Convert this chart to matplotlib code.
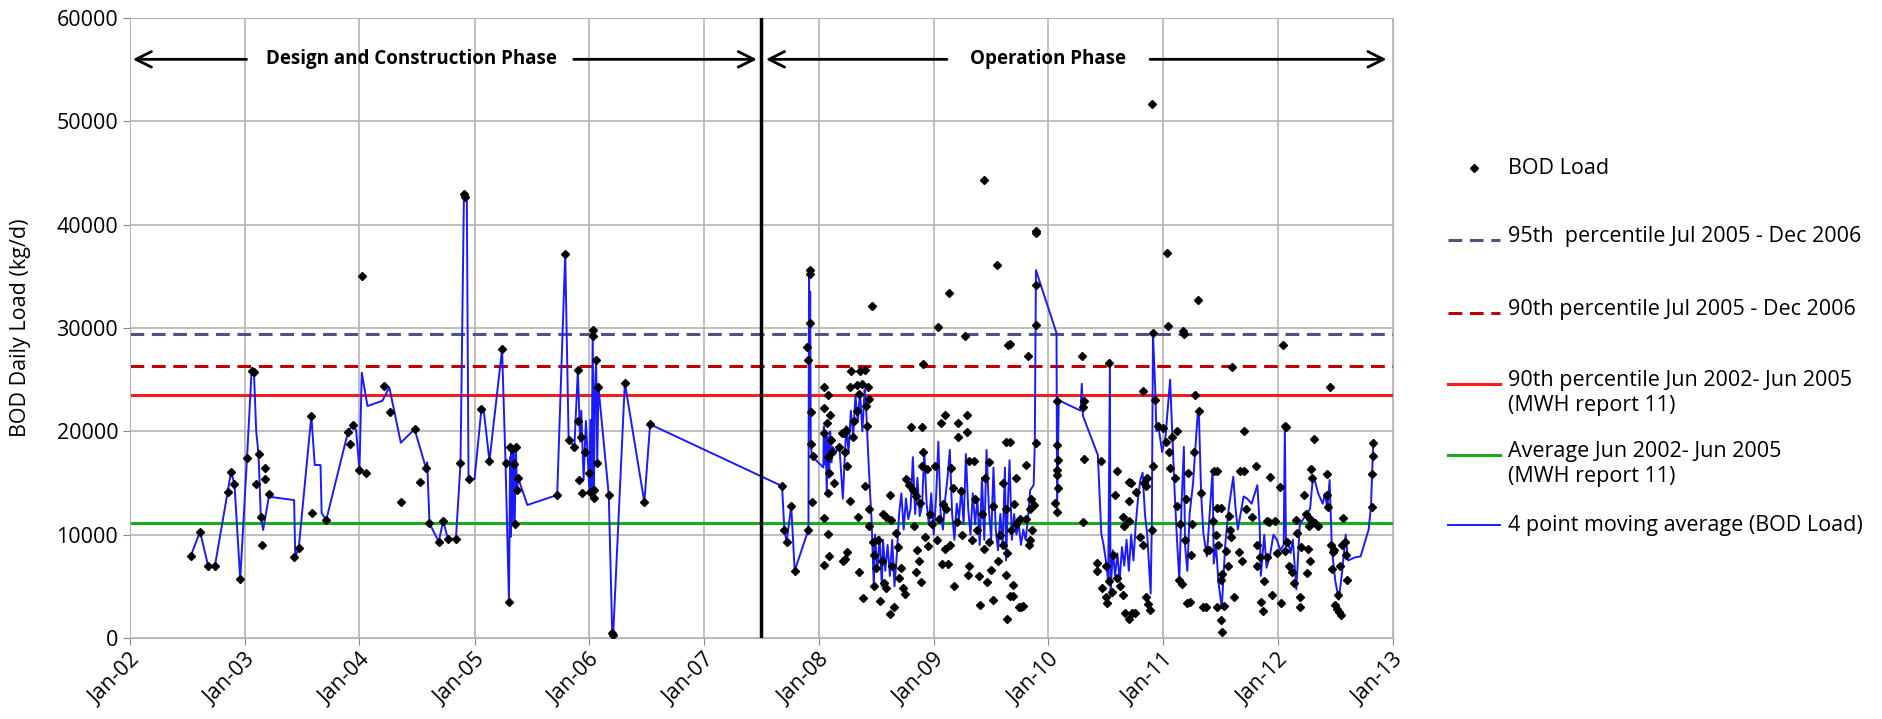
import matplotlib
matplotlib.use("Agg")
import matplotlib.pyplot as plt
import matplotlib.dates as mdates
from matplotlib.lines import Line2D
import numpy as np
import pandas as pd

# dates are written as decimal years, loads in kg/d
design_t = [2002.53, 2002.61, 2002.68, 2002.74, 2002.85, 2002.88, 2002.91, 2002.96, 2003.02, 2003.06,
            2003.08, 2003.10, 2003.12, 2003.14, 2003.15, 2003.18, 2003.18, 2003.21, 2003.43, 2003.47,
            2003.58, 2003.59, 2003.71, 2003.90, 2003.92, 2003.94, 2004.00, 2004.02, 2004.06, 2004.21,
            2004.27, 2004.36, 2004.48, 2004.53, 2004.58, 2004.61, 2004.69, 2004.73, 2004.77, 2004.84,
            2004.88, 2004.91, 2004.92, 2004.95, 2005.06, 2005.13, 2005.24, 2005.27, 2005.30, 2005.31,
            2005.33, 2005.34, 2005.35, 2005.36, 2005.37, 2005.38, 2005.72, 2005.79, 2005.82, 2005.87,
            2005.90, 2005.90, 2005.91, 2005.93, 2005.94, 2005.96, 2006.00, 2006.01, 2006.03, 2006.03,
            2006.04, 2006.04, 2006.06, 2006.07, 2006.08, 2006.17, 2006.20, 2006.21, 2006.31, 2006.48,
            2006.53]
design_v = [7960, 10290, 7000, 7000, 14100, 16100, 14870, 5680, 17450, 25870,
            25770, 14870, 17800, 11740, 9000, 16480, 15390, 13940, 7870, 8680,
            21480, 12070, 11420, 19960, 18780, 20610, 16260, 35000, 16000, 24390,
            21900, 13130, 20200, 15130, 16420, 11100, 9320, 11350, 9580, 9550,
            16900, 43000, 42700, 15380, 22130, 17130, 27940, 16970, 3510, 18500,
            18300, 16800, 11000, 18500, 14300, 15500, 13840, 37160, 19160, 18510,
            25900, 21000, 15300, 19500, 14000, 18000, 16000, 14160, 29800, 29200,
            13520, 14300, 26900, 16900, 24300, 13840, 510, 300, 24710, 13130,
            20680]

oper_t = [2007.68, 2007.70, 2007.72, 2007.76, 2007.79, 2007.91, 2007.90, 2007.92, 2007.92, 2007.92,
          2007.91, 2007.93, 2007.93, 2007.94, 2007.95,
          2008.05, 2008.08, 2008.05, 2008.10, 2008.07, 2008.05, 2008.11, 2008.08, 2008.09, 2008.08,
          2008.05, 2008.08, 2008.09, 2008.05, 2008.12, 2008.13,
          2008.20, 2008.22, 2008.24, 2008.23, 2008.25, 2008.21, 2008.23, 2008.25, 2008.34, 2008.35,
          2008.39, 2008.40, 2008.18, 2008.27, 2008.30,
          2008.28, 2008.36, 2008.40, 2008.27, 2008.33, 2008.38, 2008.43, 2008.35, 2008.31, 2008.33,
          2008.41, 2008.44, 2008.42, 2008.46,
          2008.44, 2008.44, 2008.47, 2008.48, 2008.48, 2008.53, 2008.57, 2008.59, 2008.62, 2008.66,
          2008.62, 2008.56, 2008.59, 2008.63, 2008.69, 2008.64, 2008.72, 2008.70, 2008.75, 2008.73,
          2008.50, 2008.52, 2008.55, 2008.67,
          2008.76, 2008.79, 2008.82, 2008.85, 2008.88, 2008.83, 2008.86, 2008.87, 2008.85, 2008.89,
          2008.93, 2008.95, 2008.94, 2008.91, 2008.90, 2008.80, 2008.90, 2008.91, 2008.97, 2008.99,
          2009.01, 2009.06, 2009.10, 2009.13, 2009.04, 2009.08, 2009.11, 2009.18, 2009.12, 2009.07,
          2009.10, 2009.14, 2009.21, 2009.24, 2009.21, 2009.29, 2009.29, 2009.31, 2009.31, 2009.30,
          2009.27, 2009.15, 2009.17, 2009.20, 2009.25, 2009.03, 2009.05,
          2009.35, 2009.40, 2009.39, 2009.44, 2009.44, 2009.46, 2009.52, 2009.48, 2009.50, 2009.55,
          2009.42, 2009.45, 2009.38, 2009.48, 2009.52, 2009.36, 2009.33,
          2009.63, 2009.66, 2009.65, 2009.66, 2009.60, 2009.63, 2009.64, 2009.63, 2009.64, 2009.69,
          2009.66, 2009.69, 2009.72, 2009.74, 2009.78, 2009.76, 2009.70, 2009.72, 2009.75, 2009.58,
          2009.56, 2009.60, 2009.67,
          2009.80, 2009.82, 2009.84, 2009.84, 2009.85, 2009.87, 2009.86, 2009.89, 2009.89, 2009.89,
          2009.89, 2009.89, 2009.80, 2009.83,
          2010.07, 2010.07, 2010.08, 2010.07, 2010.07, 2010.08, 2010.06, 2010.07, 2010.29, 2010.31,
          2010.30, 2010.31, 2010.30,
          2010.46, 2010.42, 2010.42, 2010.47, 2010.50, 2010.51, 2010.53, 2010.53, 2010.55, 2010.60,
          2010.62, 2010.60, 2010.58, 2010.56, 2010.50,
          2010.65, 2010.67, 2010.73, 2010.70, 2010.75, 2010.70, 2010.72, 2010.70, 2010.76, 2010.65,
          2010.66, 2010.70, 2010.82, 2010.83, 2010.85, 2010.86, 2010.82, 2010.80, 2010.85, 2010.87,
          2010.88, 2010.91, 2010.90, 2010.90,
          2010.91, 2010.93, 2010.95, 2011.03, 2011.04, 2011.00, 2011.02, 2011.05, 2011.06, 2011.08,
          2011.10, 2011.12, 2011.14, 2011.16, 2011.17, 2011.18, 2011.15, 2011.20, 2011.22, 2011.25,
          2011.24, 2011.28, 2011.30, 2011.27, 2011.12, 2011.19, 2011.21, 2011.23,
          2011.31, 2011.33, 2011.35, 2011.37, 2011.38, 2011.40, 2011.44, 2011.47, 2011.47, 2011.50,
          2011.43, 2011.46, 2011.48, 2011.50, 2011.51, 2011.47, 2011.50, 2011.51, 2011.53, 2011.55,
          2011.58, 2011.60, 2011.57, 2011.56, 2011.59,
          2011.67, 2011.70, 2011.70, 2011.62, 2011.66, 2011.69, 2011.72, 2011.77, 2011.81, 2011.82,
          2011.82, 2011.84, 2011.85, 2011.87, 2011.88, 2011.90, 2011.90, 2011.92, 2011.93, 2011.95,
          2011.97, 2011.99,
          2012.02, 2012.04, 2012.06, 2012.07, 2012.03, 2012.06, 2012.08, 2012.10, 2012.12, 2012.14,
          2012.16, 2012.17, 2012.19, 2012.19, 2012.20, 2012.23, 2012.24, 2012.26, 2012.28, 2012.29,
          2012.31, 2012.30, 2012.28, 2012.27, 2012.25,
          2012.32, 2012.35, 2012.43, 2012.45, 2012.43, 2012.44, 2012.46, 2012.48, 2012.47, 2012.49,
          2012.50, 2012.51, 2012.53, 2012.55, 2012.54, 2012.56, 2012.57, 2012.58, 2012.59, 2012.60,
          2012.83, 2012.83, 2012.82, 2012.82, 2012.52]
oper_v = [14700, 10500, 9300, 12800, 6500, 10500, 28200, 35600, 35200, 30500,
          26900, 21900, 18800, 13200, 17600,
          24300, 23500, 22300, 21600, 20800, 19800, 19200, 17500, 16000, 14000,
          11600, 10100, 7900, 7100, 18000, 15000,
          19800, 19800, 20100, 18000, 16600, 7500, 7600, 8300, 11700, 6400,
          3900, 14700, 18500, 13300, 19500,
          25800, 25800, 25900, 24300, 24500, 24600, 24300, 23600, 21000, 22000,
          22500, 23100, 20500, 32100,
          10800, 12500, 9300, 8000, 5000, 3600, 5300, 4800, 2300, 3000,
          13800, 12000, 11700, 11400, 8800, 7000, 6800, 5800, 4300, 4800,
          6800, 9500, 7500, 10200,
          15400, 14800, 14300, 13700, 13100, 10800, 8500, 7500, 6400, 5400,
          9800, 8900, 16400, 18000, 16600, 20400, 20400, 26500, 12000, 11000,
          16600, 20800, 21600, 33400, 30100, 13000, 12500, 5000, 7200, 7200,
          8600, 9000, 20800, 14200, 19500, 21600, 19900, 17100, 7000, 6100,
          29200, 16500, 14500, 11200, 10000, 9500, 11500,
          17100, 3200, 6000, 44300, 8600, 5400, 3700, 9300, 6600, 36100,
          12000, 15500, 10500, 17000, 12800, 13500, 9500,
          19000, 19000, 28400, 28500, 15000, 12500, 8200, 6100, 1800, 4100,
          4100, 5100, 11000, 3000, 3100, 3000, 13000, 15500, 11500, 10000,
          7500, 9000, 10500,
          16700, 27300, 12500, 9500, 13500, 12900, 10500, 39200, 39400, 34200,
          30300, 18900, 11500, 9000,
          22900, 18700, 17200, 16300, 15800, 14500, 13100, 12200, 27300, 22900,
          22400, 17300, 11200,
          17100, 7300, 6500, 4800, 4000, 3400, 26600, 5500, 4500, 5800,
          5000, 16200, 13800, 8000, 7000,
          4200, 2400, 2400, 1800, 2400, 15100, 15000, 13300, 14100, 11700,
          10800, 11300, 23900, 15000, 14700, 15500, 9000, 9800, 4000, 3300,
          2700, 16600, 10500, 51700,
          29500, 23000, 20500, 37300, 30200, 20300, 19000, 18000, 16500, 19500,
          15500, 12800, 5600, 5200, 29700, 29400, 11000, 13500, 16000, 11000,
          8000, 23500, 32700, 18000, 20000, 9500, 3400, 3500,
          22000, 14000, 3000, 3000, 8500, 8500, 16200, 16200, 12600, 12600,
          11300, 10000, 9000, 5600, 6200, 3000, 1700, 600, 3100, 8400,
          10500, 26200, 11800, 7000, 9800,
          16200, 16200, 20000, 4000, 8300, 7500, 12500, 11700, 16600, 9000,
          7000, 7800, 3500, 2600, 5500, 7800, 11300, 11200, 15600, 4200,
          11300, 8200,
          14600, 28400, 20500, 20400, 3400, 8400, 9300, 7000, 6400, 5300,
          11400, 10200, 4000, 3000, 8800, 13800, 12000, 8600, 7500, 16400,
          19300, 15500, 11500, 10800, 6300,
          11100, 10800, 15900, 24300, 13800, 12700, 9000, 8300, 6700, 8500,
          3200, 2800, 2500, 2200, 7000, 9000, 11600, 9300, 8000, 5600,
          18900, 17600, 15900, 12700, 4200]

ma_t = [2002.53, 2002.61, 2002.68, 2002.74, 2002.85, 2002.88, 2002.91, 2002.96, 2003.02, 2003.06,
        2003.08, 2003.10, 2003.12, 2003.14, 2003.16, 2003.21, 2003.43, 2003.44, 2003.47, 2003.58,
        2003.61, 2003.66, 2003.67, 2003.71, 2003.90, 2003.94, 2003.97, 2004.00, 2004.02, 2004.07,
        2004.20, 2004.26, 2004.36, 2004.48, 2004.58, 2004.59, 2004.61, 2004.69, 2004.73, 2004.77,
        2004.84, 2004.88, 2004.91, 2004.935, 2004.95, 2005.00, 2005.06, 2005.08, 2005.13, 2005.24,
        2005.27, 2005.30, 2005.31, 2005.315, 2005.32, 2005.33, 2005.34, 2005.35, 2005.36, 2005.37,
        2005.38, 2005.46, 2005.72, 2005.79, 2005.82, 2005.87, 2005.90, 2005.92, 2005.93, 2005.95,
        2005.97, 2006.00, 2006.01, 2006.02, 2006.03, 2006.04, 2006.05, 2006.06, 2006.07, 2006.08,
        2006.17, 2006.20, 2006.21, 2006.31, 2006.48, 2006.53,
        2007.68, 2007.70, 2007.72, 2007.76, 2007.79, 2007.91, 2007.915, 2007.92, 2007.925, 2007.93,
        2007.94, 2008.04, 2008.045, 2008.055, 2008.06, 2008.07, 2008.08, 2008.09, 2008.10, 2008.11,
        2008.12, 2008.15, 2008.18, 2008.21, 2008.24, 2008.26, 2008.28, 2008.30, 2008.32, 2008.34,
        2008.36, 2008.38, 2008.40, 2008.41, 2008.43, 2008.45, 2008.46, 2008.48, 2008.49, 2008.51,
        2008.53, 2008.55, 2008.56, 2008.58, 2008.60, 2008.62, 2008.64, 2008.66, 2008.68, 2008.70,
        2008.72, 2008.74, 2008.76, 2008.78, 2008.80, 2008.82, 2008.84, 2008.86, 2008.88, 2008.90,
        2008.92, 2008.94, 2008.96, 2008.98, 2009.00, 2009.02, 2009.04, 2009.06, 2009.08, 2009.10,
        2009.12, 2009.14, 2009.16, 2009.18, 2009.20, 2009.22, 2009.24, 2009.26, 2009.28, 2009.30,
        2009.32, 2009.34, 2009.36, 2009.38, 2009.40, 2009.42, 2009.44, 2009.46, 2009.48, 2009.50,
        2009.52, 2009.54, 2009.56, 2009.58, 2009.60, 2009.62, 2009.63, 2009.65, 2009.66, 2009.68,
        2009.70, 2009.72, 2009.74, 2009.76, 2009.78, 2009.80, 2009.82, 2009.84, 2009.87, 2009.88,
        2009.89, 2010.07, 2010.075, 2010.09, 2010.28, 2010.29, 2010.30, 2010.43, 2010.46, 2010.48,
        2010.50, 2010.52, 2010.535, 2010.54, 2010.56, 2010.58, 2010.60, 2010.62, 2010.64, 2010.66,
        2010.68, 2010.70, 2010.72, 2010.74, 2010.76, 2010.78, 2010.80, 2010.82, 2010.84, 2010.86,
        2010.89, 2010.90, 2010.91, 2010.93, 2010.94, 2010.96, 2010.99, 2011.02, 2011.06, 2011.08,
        2011.10, 2011.12, 2011.14, 2011.16, 2011.18, 2011.19, 2011.21, 2011.23, 2011.26, 2011.30,
        2011.31, 2011.33, 2011.35, 2011.38, 2011.43, 2011.44, 2011.46, 2011.48, 2011.51, 2011.54,
        2011.57, 2011.61, 2011.63, 2011.65, 2011.70, 2011.73, 2011.77, 2011.82, 2011.84, 2011.85,
        2011.88, 2011.90, 2011.93, 2011.96, 2011.99, 2012.02, 2012.05, 2012.06, 2012.07, 2012.09,
        2012.11, 2012.13, 2012.16, 2012.19, 2012.22, 2012.25, 2012.28, 2012.30, 2012.32, 2012.35,
        2012.39, 2012.41, 2012.43, 2012.45, 2012.47, 2012.50, 2012.53, 2012.56, 2012.59, 2012.61,
        2012.67, 2012.72, 2012.79, 2012.81, 2012.83]
ma_v = [7960, 10290, 7000, 7000, 14100, 16100, 14870, 5680, 17450, 25870,
        25770, 20000, 17800, 11740, 10450, 13670, 13350, 7870, 8680, 21480,
        16740, 16740, 12070, 11420, 19960, 20610, 20130, 16260, 25670, 22450,
        22960, 24260, 18900, 20200, 16420, 17000, 11100, 9320, 11350, 9580,
        9550, 16900, 43000, 42500, 15380, 15380, 22130, 22060, 17130, 27940,
        16970, 3510, 17500, 9800, 18500, 11000, 18300, 10900, 18500, 14300,
        15500, 12870, 13840, 37160, 19160, 18510, 25900, 19000, 22000, 15300,
        21000, 14500, 21100, 13500, 29800, 13300, 24000, 26900, 16900, 24300,
        13840, 510, 700, 24710, 13130, 20680,
        14700, 10500, 9300, 12800, 6500, 10500, 35600, 24000, 33500, 18800,
        17600, 16500, 20500, 16800, 19800, 14000, 19500, 15500, 20000, 17000,
        18500, 18000, 18600, 13500, 20500, 18000, 22000, 19500, 23500, 21000,
        23800, 20000, 24000, 23000, 18000, 13500, 11500, 5000, 10000, 6500,
        9800, 5000, 9500, 6500, 9000, 6000, 9500, 5000, 8000, 12000,
        14000, 10500, 13500, 11500, 12500, 17500, 12000, 15500, 11800, 12800,
        18000, 13000, 11000, 14000, 10000, 13500, 19000, 12000, 10500, 13500,
        15500, 18200, 12000, 9500, 13000, 11500, 14500, 11000, 17800, 12500,
        10000, 14000, 11000, 13500, 9000, 15500, 9500, 18200, 12500, 9500,
        16500, 10500, 8500, 12000, 9000, 16500, 7500, 14300, 17200, 9500,
        12000, 10000, 11000, 9000, 10500, 9500, 11500, 14300, 14800, 18800,
        35600, 29500, 12400, 23000, 22000, 24600, 21500, 17700, 10100, 9000,
        7500, 5500, 26400, 4000, 8500, 6000, 8200, 5500, 8800, 7000,
        9500, 6500, 10000, 7500, 11000, 13500, 15300, 16000, 12000, 10000,
        4300, 11000, 29500, 24000, 20000, 20300, 18000, 19500, 25000, 19500,
        14000, 9500, 5600, 13000, 18500, 9000, 6500, 12000, 15000, 21700,
        22000, 14000, 10100, 7900, 16300, 7200, 9000, 5500, 2900, 9000,
        12500, 15600, 12500, 10500, 13700, 13500, 13000, 14800, 11000, 6000,
        10000, 6800, 8000, 10000, 9500, 8500, 9000, 20500, 8800, 9200,
        8200, 9500, 4700, 11000, 11500, 12000, 12500, 15000, 15300, 14000,
        13000, 14000, 12500, 15300, 8500, 5500, 3700, 6500, 10000, 7500,
        7800, 7900, 10500, 12700, 18900]

ref_labels = ["95th  percentile Jul 2005 - Dec 2006",
              "90th percentile Jul 2005 - Dec 2006",
              "90th percentile Jun 2002- Jun 2005\n(MWH report 11)",
              "Average Jun 2002- Jun 2005\n(MWH report 11)"]
ref_values = [29400, 26300, 23500, 11100]
ref_colors = ["#4f5384", "#c00000", "#ff1a1a", "#1aaa1a"]
ref_styles = ["--", "--", "-", "-"]
ma_label = "4 point moving average (BOD Load)"
ma_color = "#1a1aff"


def to_date(years):
    years = np.asarray(years, dtype=float)
    whole = np.floor(years).astype(int)
    out = [pd.Timestamp(year=int(y), month=1, day=1) + pd.Timedelta(days=float(f) * 365.25)
           for y, f in zip(whole, years - whole)]
    return pd.DatetimeIndex(out)


plt.rcParams['font.family'] = ['Open Sans', 'DejaVu Sans']
FS = 15.5

W, H = 1883, 719
fig = plt.figure(figsize=(W / 100, H / 100), dpi=100)
ax = fig.add_axes([130 / W, 81 / H, 1263 / W, 620 / H])

t_all = to_date(list(design_t) + list(oper_t))
v_all = list(design_v) + list(oper_v)
ax.plot(t_all, v_all, linestyle='none', marker='D', markersize=3.8, color='black', zorder=4)

x0, x1 = pd.Timestamp('2002-01-01'), pd.Timestamp('2013-01-01')
for val, col, ls in zip(ref_values, ref_colors, ref_styles):
    ax.plot([x0, x1], [val, val], color=col, linestyle=ls, linewidth=2.2,
            dashes=(4.5, 2.5) if ls == '--' else (None, None), zorder=2)

ax.plot(to_date(ma_t), ma_v, color=ma_color, linewidth=1.4, zorder=3)

# phase split
split = pd.Timestamp('2007-07-01')
ax.plot([split, split], [0, 60000], color='black', linewidth=2.5, zorder=5)

ax.set_xlim(x0, x1)
ax.set_ylim(0, 60000)
ax.set_yticks(np.arange(0, 60001, 10000))
ax.xaxis.set_major_locator(mdates.YearLocator())
ax.xaxis.set_major_formatter(mdates.DateFormatter('%b-%y'))
plt.setp(ax.get_xticklabels(), rotation=45, ha='right', rotation_mode='anchor')
ax.tick_params(labelsize=FS, length=5, color='#888888')
ax.grid(True, color='#b4b4b4', linewidth=1.2)
ax.set_axisbelow(True)
for s in ax.spines.values():
    s.set_color('#b4b4b4')
ax.set_ylabel('BOD Daily Load (kg/d)', fontsize=FS)
ax.yaxis.set_label_coords(-0.078, 0.5)

# phase arrows
ya = 56000
arr = dict(arrowstyle='->', color='black', lw=2, mutation_scale=28)
ax.annotate('', xy=(to_date([2002.0])[0], ya), xytext=(to_date([2003.04])[0], ya), arrowprops=arr)
ax.annotate('', xy=(to_date([2007.485])[0], ya), xytext=(to_date([2005.84])[0], ya), arrowprops=arr)
ax.annotate('', xy=(to_date([2007.515])[0], ya), xytext=(to_date([2009.14])[0], ya), arrowprops=arr)
ax.annotate('', xy=(to_date([2012.97])[0], ya), xytext=(to_date([2010.86])[0], ya), arrowprops=arr)
ax.text(to_date([2004.45])[0], ya, 'Design and Construction Phase', ha='center', va='center',
        fontsize=13.5, fontweight='bold')
ax.text(to_date([2010.0])[0], ya, 'Operation Phase', ha='center', va='center',
        fontsize=13.5, fontweight='bold')

# legend drawn entry by entry, Excel style: handle beside the first text line
rows_y = [168, 240, 313, 384, 455, 525]
hx0, hx1, tx = 1448, 1500, 1508
fig.add_artist(Line2D([(hx0 + hx1) / 2 / W], [1 - rows_y[0] / H], marker='D', markersize=3.8,
                      color='black', linestyle='none'))
fig.text(tx / W, 1 - rows_y[0] / H, 'BOD Load', fontsize=FS, va='center', ha='left')
for y, lab, col, ls in zip(rows_y[1:5], ref_labels, ref_colors, ref_styles):
    fig.add_artist(Line2D([hx0 / W, hx1 / W], [1 - y / H] * 2, color=col, linewidth=2.2,
                          linestyle=ls, dashes=(4.5, 2.5) if ls == '--' else (None, None)))
    fig.text(tx / W, 1 - (y - 14) / H, lab, fontsize=FS, va='top', ha='left', linespacing=1.25)
fig.add_artist(Line2D([hx0 / W, hx1 / W], [1 - rows_y[5] / H] * 2, color=ma_color, linewidth=1.4))
fig.text(tx / W, 1 - rows_y[5] / H, ma_label, fontsize=FS, va='center', ha='left')

fig.savefig('out.png', dpi=100)
